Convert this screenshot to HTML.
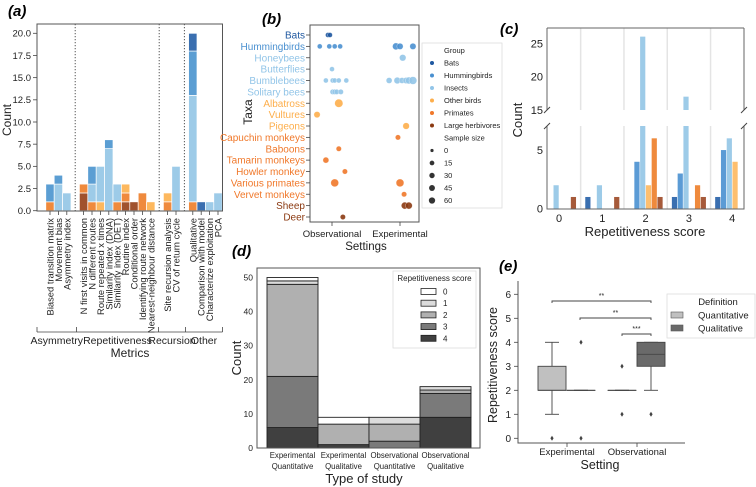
<!DOCTYPE html>
<html><head><meta charset="utf-8"><style>
html,body{margin:0;padding:0;background:#fff;}
svg{display:block;font-family:"Liberation Sans",Arial,sans-serif;}
</style></head><body>
<svg id="chart" width="756" height="487" viewBox="0 0 756 487" xmlns="http://www.w3.org/2000/svg"></svg>
<script>
// ---------- Panel (a) data ----------
const aCats = ["Biased transition matrix","Movement bias","Asymmetry index","N first visits in common","N different routes","Route repeated x times","Similarity index (DNA)","Similarity index (DET)","Routine index","Conditional order","Identifying route network","Nearest-neighbour distance","Site recursion analysis","CV of return cycle","Qualitative","Comparison with model","Characterize exploitation","PCA"];
const aSlots = [0,1,2,4,5,6,7,8,9,10,11,12,14,15,17,18,19,20];
const aHerb = [0,0,0,2,0,0,0,0,1,1,0,0,0,0,0,0,0,0];
const aPrim = [1,0,0,1,1,0,0,1,1,0,2,0,1,0,1,0,0,0];
const aBird = [0,0,0,0,0,1,0,0,1,0,0,1,1,0,0,0,0,0];
const aIns  = [0,3,2,0,2,4,7,2,0,0,0,0,0,5,12,0,1,2];
const aHum  = [2,1,0,0,2,0,1,0,0,0,0,0,0,0,5,0,0,0];
const aBat  = [0,0,0,0,0,0,0,0,0,0,0,0,0,0,2,1,0,0];
const aTicks = [0,2.5,5,7.5,10,12.5,15,17.5,20];
const aDividers = [3,13,16];
const aGroups = ["Asymmetry","Repetitiveness","Recursion","Other"];
// ---------- Panel (b) data ----------
const bTaxa = ["Bats","Hummingbirds","Honeybees","Butterflies","Bumblebees","Solitary bees","Albatross","Vultures","Pigeons","Capuchin monkeys","Baboons","Tamarin monkeys","Howler monkey","Various primates","Vervet monkeys","Sheep","Deer"];
const bTaxGroup = [0,1,2,2,2,2,3,3,3,4,4,4,4,4,4,5,5];
const bRow  = [0,0,1,1,1,1,1,1,1,2,3,4,4,4,4,4,4,4,4,4,4,4,5,5,5,5,6,7,8,9,10,11,12,13,13,14,15,15,16];
const bX    = [-0.06,-0.03,-0.18,-0.04,0.04,0.12,0.94,1.0,1.19,1.04,0,-0.09,0.01,0.04,0.10,0.21,0.84,0.96,1.03,1.09,1.13,1.19,0.01,0.04,0.07,0.13,0.10,-0.22,1.09,0.97,0.10,-0.09,0.19,0.04,1.0,1.06,1.07,1.13,0.16];
const bSize = [5,5,5,5,5,5,30,20,20,25,5,5,5,5,5,5,15,25,15,20,30,50,8,8,8,8,60,20,25,8,8,15,8,50,50,8,30,30,8];
const bGroups = ["Bats","Hummingbirds","Insects","Other birds","Primates","Large herbivores"];
const bSizeLegend = [0,15,30,45,60];
// ---------- Panel (c) data ----------
const cScores = [0,1,2,3,4];
const cBats = [0,1,0,1,1];
const cHum  = [0,0,4,3,5];
const cIns  = [2,2,26,17,6];
const cBird = [0,0,2,0,4];
const cPrim = [0,0,6,2,0];
const cHerb = [1,1,1,1,0];
const cTopTicks = [15,20,25];
const cBotTicks = [0,5];
// ---------- Panel (d) data ----------
const dCats = [["Experimental","Quantitative"],["Experimental","Qualitative"],["Observational","Quantitative"],["Observational","Qualitative"]];
const dS4 = [6,1,0,9];
const dS3 = [15,0,2,7];
const dS2 = [27,6,5,1];
const dS1 = [1,0,2,1];
const dS0 = [1,2,0,0];
const dTicks = [0,10,20,30,40,50];
// ---------- Panel (e) data ----------
const eSettings = ["Experimental","Observational"];
const eQ1  = [2,2,2,3];
const eMed = [2,2,2,3.5];
const eQ3  = [3,2,2,4];
const eLo  = [1,2,2,2];
const eHi  = [4,2,2,4];
const eOut = [[0],[4,0],[3,1],[1]];
const eTicks = [0,1,2,3,4,5,6];

const NS="http://www.w3.org/2000/svg";
const svg=document.getElementById('chart');
function mk(tag,attrs,txt){const e=document.createElementNS(NS,tag);for(const k in attrs)e.setAttribute(k,attrs[k]);if(txt!==undefined)e.textContent=txt;svg.appendChild(e);return e;}
let e;

// ===== Panel a =====
const xA=s=>50+s*8.4, yA=v=>210.7-v*8.87;
e=mk('text',{x:8,y:16,'font-size':15,'font-weight':'bold','font-style':'italic'},'(a)');


const aCol=['#a0522d','#ef8a3d','#fdb85e','#9dcbe8','#5b9ed3','#3a6fb0'];
const aSeries=[aHerb,aPrim,aBird,aIns,aHum,aBat];
aCats.forEach((c,i)=>{let base=0;aSeries.forEach((ser,k)=>{const v=ser[i];if(v>0){
 e=mk('rect',{x:xA(aSlots[i])-4.2,y:yA(base+v),width:8.4,height:yA(base)-yA(base+v),fill:aCol[k],stroke:'#fff','stroke-width':0.7});
 
 
 base+=v;}});
 e=mk('line',{x1:xA(aSlots[i]),x2:xA(aSlots[i]),y1:211,y2:215,stroke:'#444','stroke-width':0.8});
 
 
 const tx=xA(aSlots[i])+3.5;
 e=mk('text',{x:tx,y:218,'font-size':9.4,fill:'#222','text-anchor':'end',transform:`rotate(-90 ${tx} 218)`},c);
 
 
});
aDividers.forEach(d=>{e=mk('line',{x1:xA(d),x2:xA(d),y1:24,y2:211,stroke:'#555','stroke-width':1,'stroke-dasharray':'1.2,1.8'});
 
 });
e=mk('rect',{x:37,y:24,width:185.5,height:187,fill:'none',stroke:'#555','stroke-width':1});


aTicks.forEach(t=>{e=mk('line',{x1:33,x2:37,y1:yA(t),y2:yA(t),stroke:'#444','stroke-width':0.8});
 
 
 e=mk('text',{x:31,y:yA(t)+3.3,'font-size':9.5,'text-anchor':'end',fill:'#222'},t.toFixed(1));
 
 });
e=mk('text',{x:11,y:120,'font-size':12,'text-anchor':'middle',transform:'rotate(-90 11 120)',fill:'#222'},'Count');


const gEdges=[37,76.5,158.5,185.5,222.5];
e=mk('line',{x1:37,x2:222.5,y1:332,y2:332,stroke:'#444','stroke-width':0.8});


gEdges.forEach(g=>{e=mk('line',{x1:g,x2:g,y1:327,y2:332,stroke:'#444','stroke-width':0.8});
 
 });
aGroups.forEach((g,i)=>{e=mk('text',{x:(gEdges[i]+gEdges[i+1])/2,y:344,'font-size':10.5,'text-anchor':'middle',fill:'#222'},g);
 
 });
e=mk('text',{x:130,y:357,'font-size':12,'text-anchor':'middle',fill:'#222'},'Metrics');



// ===== Panel b =====
const bCol=['#1f58a0','#4a90d0','#92c5e8','#fdae4b','#f0782a','#8b3a12'];
const xB=v=>332+v*68, yB=i=>35+i*11.375, rB=s=>1.8+Math.sqrt(s)*0.3;
e=mk('text',{x:262,y:24,'font-size':15,'font-weight':'bold','font-style':'italic'},'(b)');


e=mk('rect',{x:310,y:25,width:109,height:197,fill:'none',stroke:'#555','stroke-width':1});


bTaxa.forEach((t,i)=>{e=mk('line',{x1:306,x2:310,y1:yB(i),y2:yB(i),stroke:'#444','stroke-width':0.8});
 
 
 e=mk('text',{x:305,y:yB(i)+3.5,'font-size':10,'text-anchor':'end',fill:bCol[bTaxGroup[i]]},t);
 
 });
bRow.forEach((r,i)=>{e=mk('circle',{cx:xB(bX[i]),cy:yB(r),r:rB(bSize[i]),fill:bCol[bTaxGroup[r]],'fill-opacity':0.9,stroke:'#fff','stroke-width':0.3});
 
 });
["Observational","Experimental"].forEach((s,i)=>{e=mk('line',{x1:xB(i),x2:xB(i),y1:222,y2:226,stroke:'#444','stroke-width':0.8});
 
 
 e=mk('text',{x:xB(i),y:237,'font-size':9.5,'text-anchor':'middle',fill:'#222'},s);
 
 });
e=mk('text',{x:366,y:250,'font-size':11.5,'text-anchor':'middle',fill:'#222'},'Settings');


e=mk('text',{x:252,y:112,'font-size':12,'text-anchor':'middle',transform:'rotate(-90 252 112)',fill:'#222'},'Taxa');


e=mk('rect',{x:422,y:43,width:80,height:165,fill:'#fff',stroke:'#ddd','stroke-width':0.8});


e=mk('text',{x:444,y:53,'font-size':7.5,fill:'#222'},'Group');


bGroups.forEach((g,i)=>{const y=65.5+i*12.5;
 e=mk('circle',{cx:432,cy:y-2.5,r:2,fill:bCol[i]});
 
 
 e=mk('text',{x:444,y:y,'font-size':7.5,fill:'#222'},g);
 
 });
e=mk('text',{x:444,y:140.5,'font-size':7.5,fill:'#222'},'Sample size');


bSizeLegend.forEach((s,i)=>{const y=153+i*12.5;
 e=mk('circle',{cx:432,cy:y-2.5,r:1.6+Math.sqrt(s)*0.2,fill:'#333'});
 
 
 e=mk('text',{x:444,y:y,'font-size':7.5,fill:'#222'},String(s));
 
 });

// ===== Panel c =====
const cCol=['#3a6fb0','#5b9bd5','#9dcbe8','#fdbf6f','#ef8a3d','#a65a3a'];
const cSer=[cBats,cHum,cIns,cBird,cPrim,cHerb];
const xC=v=>559+v*43.3, yCt=v=>43.3-(v-25)*6.67, yCb=v=>208.7-v*11.73;
e=mk('text',{x:500,y:34,'font-size':15,'font-weight':'bold','font-style':'italic'},'(c)');


[0.5,1.5,2.5,3.5].forEach(g=>{[[28,110],[126,209]].forEach(([a,b])=>{e=mk('line',{x1:xC(g),x2:xC(g),y1:a,y2:b,stroke:'#e4e4e4','stroke-width':1.5});
 
 });});
cScores.forEach((sc,j)=>{cSer.forEach((ser,k)=>{const v=ser[j];if(v<=0)return;const cx=xC(sc)+(k-2.5)*0.1333*43.3;
 const yb=Math.max(126,yCb(v));
 e=mk('rect',{x:cx-2.6,y:yb,width:5.2,height:208.7-yb,fill:cCol[k]});
 
 
 if(v>7){const yt=Math.max(28,yCt(v));e=mk('rect',{x:cx-2.6,y:yt,width:5.2,height:110-yt,fill:cCol[k]});
 
 }
});});
e=mk('path',{d:'M547,28 L744,28 M547,28 L547,110 M744,28 L744,110 M547,126 L547,209 L744,209 L744,126',fill:'none',stroke:'#666','stroke-width':1});


e=mk('path',{d:'M544,113 L550,107 M741,113 L747,107 M544,129 L550,123 M741,129 L747,123',stroke:'#444','stroke-width':1});


cTopTicks.forEach(t=>{e=mk('text',{x:543,y:yCt(t)+4,'font-size':11,'text-anchor':'end',fill:'#222'},String(t));
 
 });
cBotTicks.forEach(t=>{e=mk('text',{x:543,y:yCb(t)+4,'font-size':11,'text-anchor':'end',fill:'#222'},String(t));
 
 });
cScores.forEach(s=>{e=mk('text',{x:xC(s),y:222,'font-size':11,'text-anchor':'middle',fill:'#222'},String(s));
 
 });
e=mk('text',{x:645,y:236,'font-size':13,'text-anchor':'middle',fill:'#222'},'Repetitiveness score');


e=mk('text',{x:522,y:120,'font-size':13,'text-anchor':'middle',transform:'rotate(-90 522 120)',fill:'#222'},'Count');



// ===== Panel d =====
const dCol=['#ffffff','#dcdcdc','#b0b0b0','#7a7a7a','#404040'];
const dSer=[dS4,dS3,dS2,dS1,dS0], dColOrder=[4,3,2,1,0];
const xD=i=>292.5+i*51, yD=v=>448-v*3.41;
e=mk('text',{x:232,y:256,'font-size':15,'font-weight':'bold','font-style':'italic'},'(d)');


dCats.forEach((c,i)=>{let base=0;dSer.forEach((ser,k)=>{const v=ser[i];if(v<=0)return;
 e=mk('rect',{x:xD(i)-25.5,y:yD(base+v),width:51,height:yD(base)-yD(base+v),fill:dCol[dColOrder[k]],stroke:'#222','stroke-width':0.9});
 
 
 base+=v;});
 e=mk('text',{x:xD(i),y:458,'font-size':7.8,'text-anchor':'middle',fill:'#222'},c[0]);
 
 
 e=mk('text',{x:xD(i),y:469,'font-size':7.8,'text-anchor':'middle',fill:'#222'},c[1]);
 
 });
e=mk('rect',{x:257,y:268,width:223,height:180,fill:'none',stroke:'#555','stroke-width':1});


dTicks.forEach(t=>{e=mk('text',{x:253,y:yD(t)+3,'font-size':8.5,'text-anchor':'end',fill:'#222'},String(t));
 
 });
e=mk('text',{x:364,y:483,'font-size':13,'text-anchor':'middle',fill:'#222'},'Type of study');


e=mk('text',{x:241,y:358,'font-size':13,'text-anchor':'middle',transform:'rotate(-90 241 358)',fill:'#222'},'Count');


e=mk('rect',{x:393,y:271,width:83,height:77,fill:'#fff',stroke:'#ddd','stroke-width':0.8});


e=mk('text',{x:434.5,y:281,'font-size':8,'text-anchor':'middle',fill:'#222'},'Repetitiveness score');


[0,1,2,3,4].forEach(s=>{const y=292+s*11.7;
 e=mk('rect',{x:421,y:y-3.5,width:15,height:6,fill:dCol[s],stroke:'#222','stroke-width':0.8});
 
 
 e=mk('text',{x:443,y:y+2.5,'font-size':8,fill:'#222'},String(s));
 
 });

// ===== Panel e =====
const yE=v=>438.3-v*24;
const eX=[552,581,622,651], eCol=['#c0c0c0','#6a6a6a','#c0c0c0','#6a6a6a'];
e=mk('text',{x:499,y:271,'font-size':15,'font-weight':'bold','font-style':'italic'},'(e)');


e=mk('path',{d:'M518,281 L518,443 L685,443',fill:'none',stroke:'#555','stroke-width':1});


eTicks.forEach(t=>{e=mk('line',{x1:514,x2:518,y1:yE(t),y2:yE(t),stroke:'#444','stroke-width':0.8});
 
 
 e=mk('text',{x:511,y:yE(t)+3.5,'font-size':10,'text-anchor':'end',fill:'#222'},String(t));
 
 });
eX.forEach((cx,i)=>{const w=28;
 e=mk('line',{x1:cx,x2:cx,y1:yE(eHi[i]),y2:yE(eQ3[i]),stroke:'#444','stroke-width':0.9});
 
 
 e=mk('line',{x1:cx,x2:cx,y1:yE(eQ1[i]),y2:yE(eLo[i]),stroke:'#444','stroke-width':0.9});
 
 
 [eHi[i],eLo[i]].forEach(v=>{e=mk('line',{x1:cx-7,x2:cx+7,y1:yE(v),y2:yE(v),stroke:'#444','stroke-width':0.9});
  
  });
 e=mk('rect',{x:cx-w/2,y:yE(eQ3[i]),width:w,height:Math.max(0.1,yE(eQ1[i])-yE(eQ3[i])),fill:eCol[i],stroke:'#444','stroke-width':0.9});
 
 
 e=mk('line',{x1:cx-w/2,x2:cx+w/2,y1:yE(eMed[i]),y2:yE(eMed[i]),stroke:'#444','stroke-width':0.9});
 
 
 eOut[i].forEach(v=>{e=mk('path',{d:`M${cx},${yE(v)-2.5} L${cx+1.6},${yE(v)} L${cx},${yE(v)+2.5} L${cx-1.6},${yE(v)} Z`,fill:'#444'});
  
  });
});
eSettings.forEach((s,i)=>{const x=567+i*70;
 e=mk('line',{x1:x,x2:x,y1:443,y2:447,stroke:'#444','stroke-width':0.8});
 
 
 e=mk('text',{x:x,y:455,'font-size':9.5,'text-anchor':'middle',fill:'#222'},s);
 
 });
[[552,651,301,'**'],[580,651,318,'**'],[622,651,334,'***']].forEach(([a,b,y,t])=>{
 e=mk('path',{d:`M${a},${y+2} L${a},${y} L${b},${y} L${b},${y+2}`,fill:'none',stroke:'#444','stroke-width':0.9});
 
 
 e=mk('text',{x:(a+b)/2,y:y-3,'font-size':7,'text-anchor':'middle',fill:'#222'},t);
 
 });
e=mk('text',{x:600,y:469,'font-size':12.5,'text-anchor':'middle',fill:'#222'},'Setting');


e=mk('text',{x:497,y:365,'font-size':12.5,'text-anchor':'middle',transform:'rotate(-90 497 365)',fill:'#222'},'Repetitiveness score');


e=mk('rect',{x:667,y:294,width:88,height:44,fill:'#fff',stroke:'#ddd','stroke-width':0.8});


e=mk('text',{x:718,y:305,'font-size':9.5,'text-anchor':'middle',fill:'#222'},'Definition');


[['Quantitative','#c0c0c0'],['Qualitative','#6a6a6a']].forEach(([t,c],i)=>{const y=316+i*13;
 e=mk('rect',{x:671,y:y-4,width:12,height:6,fill:c,stroke:'#555','stroke-width':0.6});
 
 
 e=mk('text',{x:698,y:y+2.5,'font-size':9.5,fill:'#222'},t);
 
 });
</script>
</body></html>
